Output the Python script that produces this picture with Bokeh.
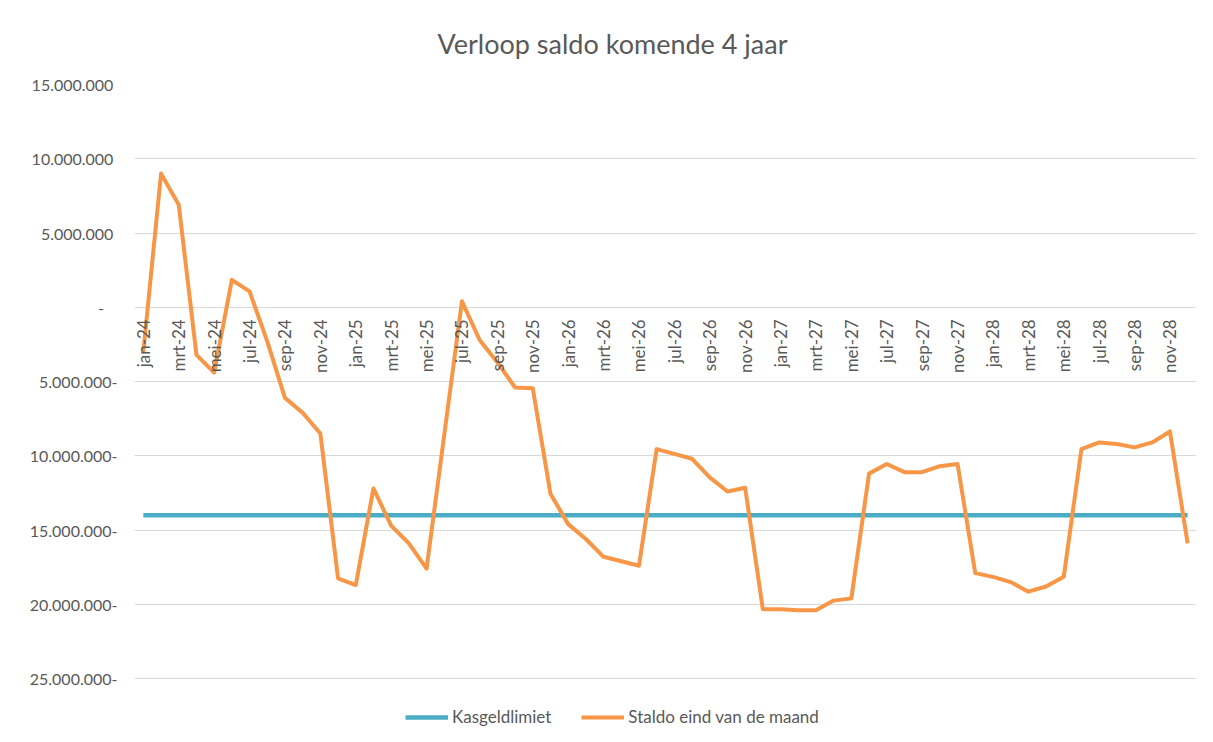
import math
from bokeh.plotting import figure
from bokeh.models import FixedTicker, Legend, LegendItem, Range1d
from bokeh.core.properties import value
from bokeh.embed import file_html
from bokeh.resources import INLINE

# ---- data -------------------------------------------------------------
months = ["jan", "feb", "mrt", "apr", "mei", "jun", "jul", "aug", "sep", "okt", "nov", "dec"]
years = ["24", "25", "26", "27", "28"]
categories = [f"{m}-{y}" for y in years for m in months]

saldo = [
    -3000000, 9000000, 6900000, -3200000, -4400000, 1850000, 1070000, -2300000, -6100000, -7100000, -8500000, -18250000,
    -18700000, -12200000, -14700000, -15900000, -17600000, -8600000, 400000, -2200000, -3700000, -5400000, -5450000, -12550000,
    -14600000, -15600000, -16800000, -17100000, -17400000, -9550000, -9870000, -10200000, -11450000, -12400000, -12150000, -20330000,
    -20330000, -20400000, -20400000, -19750000, -19600000, -11200000, -10550000, -11100000, -11100000, -10700000, -10550000, -17900000,
    -18150000, -18500000, -19150000, -18800000, -18150000, -9550000, -9100000, -9200000, -9430000, -9100000, -8360000, -15900000,
]
kasgeldlimiet = [-14000000] * 60

y_ticks = [-25000000, -20000000, -15000000, -10000000, -5000000, 0, 5000000, 10000000, 15000000]
y_tick_labels = ["25.000.000-", "20.000.000-", "15.000.000-", "10.000.000-", "5.000.000-", "-",
                 "5.000.000", "10.000.000", "15.000.000"]

title_text = "Verloop saldo komende 4 jaar"
series_names = ["Kasgeldlimiet", "Staldo eind van de maand"]

# ---- styling ----------------------------------------------------------
FONT = "Lato"
TXT = "#595959"
ORANGE = "#F79646"
BLUE = "#4BACC6"

labels_fmt = []
for t, lab in zip(y_ticks, y_tick_labels):
    if t > 0:
        labels_fmt.append(lab + "\u00a0")
    elif t == 0:
        labels_fmt.append(lab + "\u2007\u00a0")
    else:
        labels_fmt.append(lab)

x = [i + 0.5 for i in range(len(categories))]

# layout (pixels): plot top at 83, lowest tick line at 678, legend area below it
W, H = 1208, 738
TOP, LOW = 83, 678
y_top = y_ticks[-1]
y_bottom = y_top - (H - TOP) * (y_ticks[-1] - y_ticks[0]) / (LOW - TOP)

p = figure(width=W, height=H, output_backend="svg", toolbar_location=None,
           x_range=Range1d(0, len(categories)), y_range=Range1d(y_bottom, y_top),
           min_border_left=134, min_border_right=W - 1196, min_border_top=TOP,
           min_border_bottom=0)

p.title.text = title_text
p.title.align = "left"
p.title.offset = 303
p.title.standoff = 49
p.title.text_line_height = 0.85
p.title.text_font = FONT
p.title.text_font_size = "27px"
p.title.text_font_style = "normal"
p.title.text_color = TXT

p.outline_line_color = None
p.xaxis.visible = False
p.xgrid.visible = False
p.ygrid.grid_line_color = "#d9d9d9"
p.ygrid.grid_line_width = 1

p.yaxis.ticker = FixedTicker(ticks=y_ticks)
p.yaxis.major_label_overrides = {t: l for t, l in zip(y_ticks, labels_fmt)}
p.yaxis.major_tick_out = 0
p.yaxis.major_tick_in = 0
p.yaxis.minor_tick_out = 0
p.yaxis.minor_tick_in = 0
p.yaxis.axis_line_color = None
p.yaxis.major_label_standoff = 17
p.yaxis.major_label_text_font = FONT
p.yaxis.major_label_text_font_size = "16px"
p.yaxis.major_label_text_color = TXT

r_blue = p.line(x, kasgeldlimiet, line_color=BLUE, line_width=4.5)
r_orange = p.line(x, saldo, line_color=ORANGE, line_width=4, line_join="round")

# category labels at the zero line, rotated
p.text(x=x[::2], y=[0] * len(x[::2]), text=categories[::2], angle=math.pi / 2,
       text_align="right", text_baseline="middle", y_offset=12,
       text_font=value(FONT), text_font_size="17px", text_color=TXT)

legend = Legend(items=[LegendItem(label=series_names[0], renderers=[r_blue]),
                       LegendItem(label=series_names[1], renderers=[r_orange])],
                orientation="horizontal", location=(271, 11),
                glyph_width=43, glyph_height=20, label_height=20, label_standoff=4,
                spacing=30, padding=0, margin=0, border_line_color=None,
                background_fill_alpha=0, label_text_font=FONT,
                label_text_font_size="17px", label_text_color=TXT)
p.add_layout(legend)

open("out.html", "w").write(file_html(p, INLINE))
